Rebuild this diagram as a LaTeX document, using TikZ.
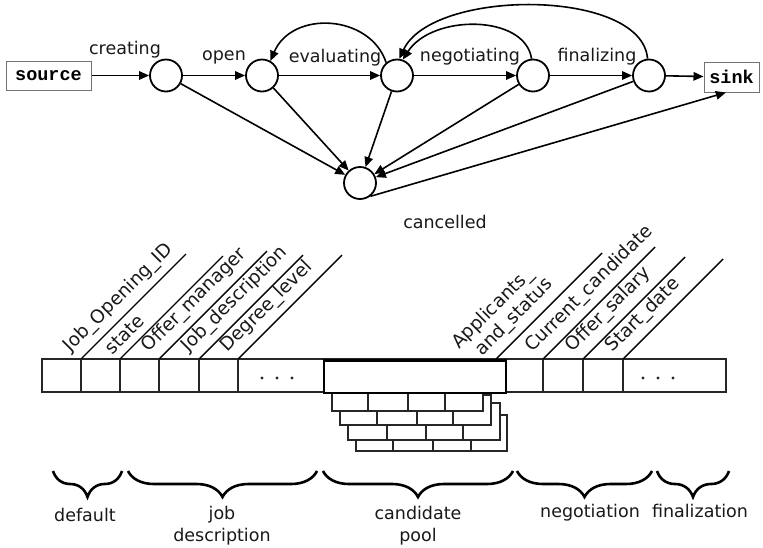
\documentclass[tikz,border=0pt]{standalone}
\usepackage{fontspec}
\setmainfont{DejaVu Sans}
\newfontfamily\monof{Liberation Mono}
\usetikzlibrary{arrows.meta,decorations.pathreplacing}
\tikzset{
  st/.style={circle, draw=black, line width=1.8pt, minimum size=32pt, inner sep=0pt, fill=white},
  arr/.style={line width=1.6pt, -{Triangle[length=10pt,width=8.5pt]}},
  term/.style={draw=black!55, line width=1pt, font=\monof\bfseries\fontsize{18.5}{18.5}\selectfont, inner sep=0pt},
  lbl/.style={font=\fontsize{17.5}{22}\selectfont, text=black!90, inner sep=0pt},
  slantlbl/.style={font=\fontsize{18.5}{20}\selectfont, text=black!90, rotate=45, anchor=south west, inner sep=0pt},
  slant/.style={line width=1.4pt, black},
  cell/.style={draw=black!85, line width=1.4pt},
  layer/.style={draw=black!85, line width=1.4pt, fill=white},
  thickbox/.style={draw=black, line width=2.8pt, fill=white},
  brc/.style={line width=2.6pt, decorate, decoration={brace, mirror, amplitude=26pt}},
}
\begin{document}
\begin{tikzpicture}[x=1pt,y=-1pt]
\useasboundingbox[fill=white] (0,0) rectangle (763,547);

% ---------- state graph ----------
\node[term, minimum width=85pt, minimum height=29pt] (src) at (48.5,75.5) {source};
\node[term, minimum width=55pt, minimum height=30pt] (sink) at (731.5,77) {sink};
\node[st] (c1) at (166,75.5) {};
\node[st] (c2) at (262,75.5) {};
\node[st] (c3) at (397,75.5) {};
\node[st] (c4) at (533,75.5) {};
\node[st] (c5) at (649,75.5) {};
\node[st] (cc) at (360,183) {};

\node[lbl] (lcreating) at (125,50) {creating};
\node[lbl] (lopen) at (224,57) {open};
\node[lbl] (leval) at (335,58) {evaluating};
\node[lbl] (lnego) at (470,57) {negotiating};
\node[lbl] (lfinal) at (597,57) {finalizing};
\node[lbl] (lcanc) at (445,222) {cancelled};

\draw[arr] (src) -- (c1);
\draw[arr] (c1) -- (c2);
\draw[arr] (c2) -- (c3);
\draw[arr] (c3) -- (c4);
\draw[arr] (c4) -- (c5);
\draw[arr] (c5) -- (sink);
\draw[arr] (c1) -- (cc);
\draw[arr] (c2) -- (cc);
\draw[arr] (c3) -- (cc);
\draw[arr] (c4) -- (cc);
\draw[arr] (c5) -- (cc);
\draw[arr] (cc.-52) -- (sink.-110);
\draw[arr] (c3.130) .. controls (370,14) and (292,10) .. (c2.60);
\draw[arr] (c4.95) .. controls (525,14) and (432,14) .. (c3.70);
\draw[arr] (c5.95) .. controls (642,-12) and (432,-12) .. (c3.82);

% ---------- record row ----------
\draw[cell] (42,359) rectangle (726,392);
\foreach \x in {81,120,159,199,238,543,583,623} \draw[cell] (\x,359) -- (\x,392);
\foreach \x in {262,277,292,643,658,673} \fill[black!85] (\x,378) circle (1.7pt);

% stacked candidate records (back to front)
\draw[layer] (356,415) rectangle (507,451);
\foreach \x in {393,433,471} \draw[cell] (\x,415) -- (\x,451);
\draw[layer] (348,403) rectangle (500,440);
\foreach \x in {387,426,463} \draw[cell] (\x,403) -- (\x,440);
\draw[layer] (340,395) rectangle (491,425);
\foreach \x in {377,417,453} \draw[cell] (\x,395) -- (\x,425);
\draw[layer] (332,385) rectangle (483,411);
\foreach \x in {368,408,445} \draw[cell] (\x,385) -- (\x,411);
\draw[thickbox] (324,360.5) rectangle (506,393);

% slanted field labels
\foreach \x/\d/\txt/\nm in {81/105/Job\_Opening\_ID/fa, 120/103/state/fb, 159/108/Offer\_manager/fc,
   199/104/Job\_description/fd, 238/104/Degree\_level/fe, 543/112/Current\_candidate/fg,
   583/102/Offer\_salary/fh, 623/100/Start\_date/fi}{
  \draw[slant] (\x,359) -- ++(\d,-\d);
  \node[slantlbl] (\nm) at (\x-7.1,356.2) {\txt};
}
\draw[slant] (496,359) -- ++(106,-106);
\node[slantlbl] (ff2) at (485.4,359.7) {and\_status};
\node[slantlbl] (ff1) at (462.1,353.3) {Applicants\_};

% ---------- braces ----------
\draw[brc] (53,471) -- (122,471);
\draw[brc] (128,471) -- (317,471);
\draw[brc] (323,471) -- (513,471);
\draw[brc] (517,471) -- (652,471);
\draw[brc] (657,471) -- (729,471);
\node[lbl] (bdef) at (85,515) {default};
\node[lbl, align=center] (bjob) at (222,526) {job\\description};
\node[lbl, align=center] (bcand) at (418,526) {candidate\\pool};
\node[lbl] (bneg) at (590,513) {negotiation};
\node[lbl] (bfin) at (700,511) {finalization};
\end{tikzpicture}
\end{document}
